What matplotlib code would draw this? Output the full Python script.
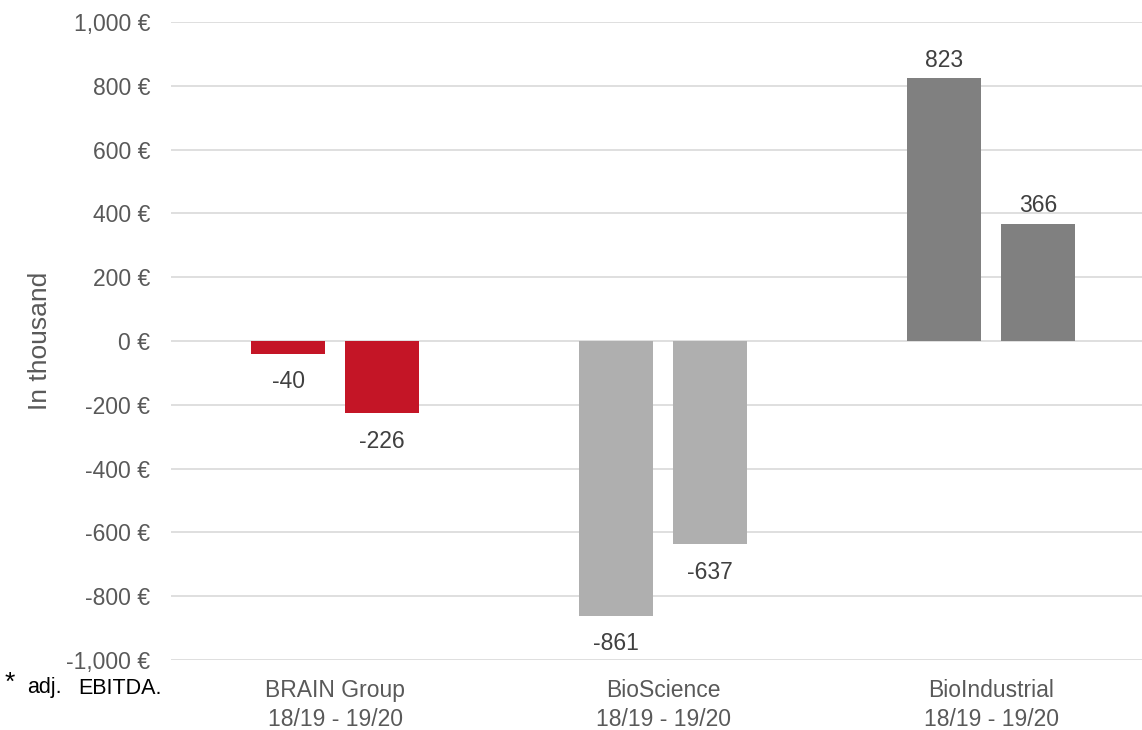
import numpy as np
import matplotlib.pyplot as plt

plt.rcParams['font.family'] = ['Liberation Sans', 'DejaVu Sans']

categories = ['BRAIN Group\n18/19 - 19/20', 'BioScience\n18/19 - 19/20', 'BioIndustrial\n18/19 - 19/20']
values_1819 = [-40, -861, 823]
values_1920 = [-226, -637, 366]
colors = ['#C41526', '#AFAFAF', '#808080']
yticks = [-1000, -800, -600, -400, -200, 0, 200, 400, 600, 800, 1000]

W, H = 1142, 730
fig = plt.figure(figsize=(W / 100, H / 100), dpi=100)
ax = fig.add_axes([171 / W, 1 - 660 / H, (1142 - 171) / W, (660 - 22) / H])

x = np.arange(len(categories))
bw = 0.226
off = 0.143
for xs, vals in [(x - off, values_1819), (x + off, values_1920)]:
    ax.bar(xs, vals, width=bw, color=colors, zorder=2)
    for xi, v in zip(xs, vals):
        if v < 0:
            ax.annotate(str(v), (xi, v), xytext=(0, -12), textcoords='offset points',
                        ha='center', va='top', fontsize=16.5, color='#404040')
        else:
            ax.annotate(str(v), (xi, v), xytext=(0, 5), textcoords='offset points',
                        ha='center', va='bottom', fontsize=16.5, color='#404040')

ax.set_xlim(-0.5, 2.46)
ax.set_ylim(-1000, 1000)
ax.set_yticks(yticks)
ax.set_yticklabels(['{:,} €'.format(t) for t in yticks])
ax.set_xticks(x)
ax.set_xticklabels(categories, linespacing=1.3)
ax.tick_params(axis='both', length=0, labelsize=16.5, labelcolor='#595959')
ax.tick_params(axis='y', pad=15)
ax.tick_params(axis='x', pad=14)
ax.grid(axis='y', color='#D9D9D9', linewidth=1.2, zorder=0)
for s in ax.spines.values():
    s.set_visible(False)
ax.set_ylabel('In thousand', fontsize=19, color='#595959', labelpad=10)

fig.text(5 / W, 1 - 683 / H, '*', fontsize=19, color='black', va='center')
fig.text(27 / W, 1 - 688 / H, 'adj.', fontsize=15.5, color='black', va='center')
fig.text(78 / W, 1 - 688 / H, 'EBITDA.', fontsize=15.5, color='black', va='center')

fig.savefig('out.png', dpi=100)
